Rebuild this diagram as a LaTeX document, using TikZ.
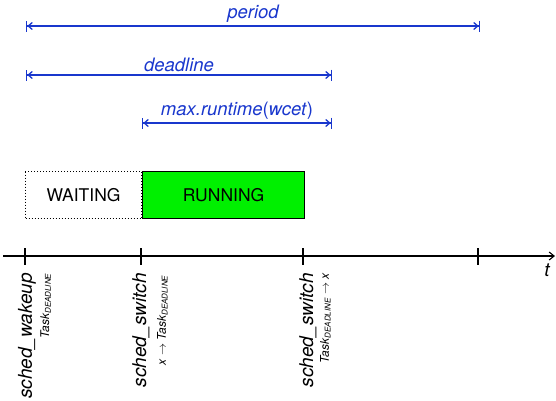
\documentclass[tikz,border=0pt]{standalone}
\usepackage{fontspec}
\setmainfont{TeX Gyre Heros}
\usetikzlibrary{arrows.meta,calc}
\definecolor{dimblue}{RGB}{25,55,205}
\definecolor{runGreen}{RGB}{0,240,0}

\begin{document}
\begin{tikzpicture}[x=1pt,y=-1pt,
    dimline/.style={dimblue,line width=1.3pt,
        {Bar[width=11pt]Straight Barb[length=4pt,width=7pt]}-{Straight Barb[length=4pt,width=7pt]Bar[width=11pt]}},
    dimlabel/.style={dimblue,font=\fontsize{18.5}{20}\selectfont\itshape,above,inner sep=3pt},
    statebox/.style={anchor=north west,minimum height=47pt,inner sep=0pt,
        font=\fontsize{17.5}{20}\selectfont},
    evlabel/.style={rotate=90,anchor=east,inner sep=0pt,
        font=\fontsize{19}{20}\selectfont\itshape},
    evsub/.style={rotate=90,anchor=north east,inner sep=0pt,
        font=\fontsize{12}{13}\selectfont\itshape}]

    \useasboundingbox (0,0) rectangle (556,400);

    % Zeitpunkte auf der Achse
    \coordinate (T0) at (25,256);
    \coordinate (T1) at (141,256);
    \coordinate (T2) at (303,256);
    \coordinate (T3) at (478,256);

    % Bemassung (period, deadline, runtime)
    \coordinate (per0) at (26,26);   \coordinate (per1) at (480,26);
    \coordinate (dl0)  at (26,75);   \coordinate (dl1)  at (332,75);
    \coordinate (rt0)  at (142,123); \coordinate (rt1)  at (332,123);
    \draw[dimline] (per0) -- node[dimlabel] {period} (per1);
    \draw[dimline] (dl0) -- node[dimlabel] {deadline} (dl1);
    \draw[dimline] (rt0) -- node[dimlabel] {max.runtime\textup{(}wcet\textup{)}} (rt1);

    % Zustaende
    \node[statebox,draw,dotted,line width=1pt,minimum width=116pt] (wait) at (25,171) {WAITING};
    \node[statebox,draw,fill=runGreen,line width=1.1pt,minimum width=162pt] (run) at (wait.north east) {RUNNING};

    % Zeitachse
    \draw[line width=1.1pt,-{Straight Barb[length=5pt,width=8pt]}] (3,256) -- (555,256);
    \foreach \t in {T0,T1,T2,T3}
        \draw[line width=1.1pt] ($(\t)+(0,-8)$) -- ($(\t)+(0,9)$);
    \node[font=\fontsize{19}{20}\selectfont\itshape] (t) at (547,270) {t};

    % Ereignisse
    \node[evlabel] (wake) at ($(T0)+(2,17)$) {sched\_wakeup};
    \node[evsub] (wakesub) at ($(wake.south east)+(4,0)$) {Task\textsubscript{DEADLINE}};
    \node[evlabel] (sw1) at ($(T1)+(0,17)$) {sched\_switch};
    \node[evsub] (sw1sub) at ($(sw1.south east)+(7,2)$) {x $\rightarrow$ Task\textsubscript{DEADLINE}};
    \node[evlabel] (sw2) at ($(T2)+(5,17)$) {sched\_switch};
    \node[evsub] (sw2sub) at ($(sw2.south east)+(3,0)$) {Task\textsubscript{DEADLINE} $\rightarrow$ x};

\end{tikzpicture}
\end{document}
